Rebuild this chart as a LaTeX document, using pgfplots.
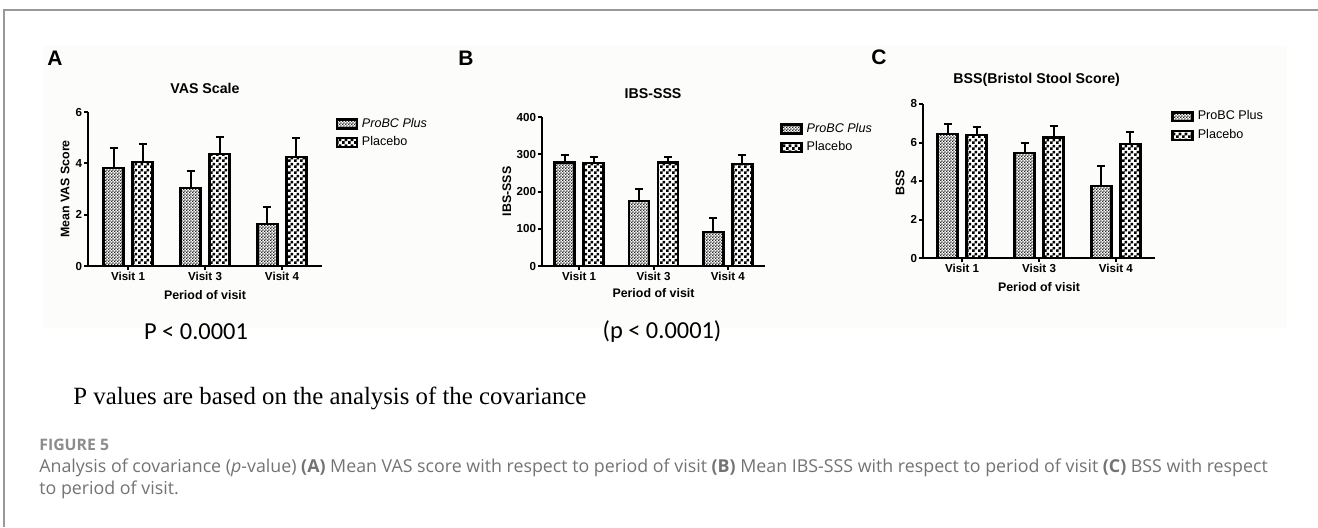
\documentclass[border=0pt]{standalone}
\usepackage{pgfplots}
\pgfplotsset{compat=1.18}
\usepackage{fontspec}
\setmainfont{Liberation Sans}
\newfontfamily\serifT{Liberation Serif}
\newfontfamily\carl{Carlito}
\newfontfamily\osans{Open Sans}
\usetikzlibrary{patterns}
\definecolor{bgc}{RGB}{252,252,250}
\definecolor{capgray}{RGB}{115,115,115}
\definecolor{figgray}{RGB}{140,140,140}
\pgfdeclarepatternformonly{finecheck}{\pgfpointorigin}{\pgfqpoint{1.6pt}{1.6pt}}{\pgfqpoint{1.6pt}{1.6pt}}{%
  \pgfpathrectangle{\pgfpointorigin}{\pgfqpoint{0.8pt}{0.8pt}}%
  \pgfpathrectangle{\pgfqpoint{0.8pt}{0.8pt}}{\pgfqpoint{0.8pt}{0.8pt}}%
  \pgfusepath{fill}}
\pgfdeclarepatternformonly{coarsecheck}{\pgfpointorigin}{\pgfqpoint{3pt}{3pt}}{\pgfqpoint{3pt}{3pt}}{%
  \pgfpathrectangle{\pgfpointorigin}{\pgfqpoint{1.5pt}{1.5pt}}%
  \pgfpathrectangle{\pgfqpoint{1.5pt}{1.5pt}}{\pgfqpoint{1.5pt}{1.5pt}}%
  \pgfusepath{fill}}
\pgfplotsset{
  panel/.style={
    scale only axis, axis lines=left, axis line style={-, line width=1pt},
    xmin=-0.52, xmax=2.52, ymin=0,
    xtick={0,1,2}, xticklabels={Visit 1, Visit 3, Visit 4},
    tick align=outside, major tick length=2pt,
    tick style={line width=1pt, black},
    ybar=4.5pt, bar width=10pt,
    tick label style={font=\fontsize{5.8}{6}\selectfont\bfseries, inner sep=0.8pt},
    label style={font=\fontsize{6.2}{7}\selectfont\bfseries},
    every axis title shift=0pt,
    title style={font=\fontsize{7.1}{8}\selectfont\bfseries, anchor=center, yshift=0pt},
    /pgf/number format/assume math mode=true,
    legend style={draw=none, fill=none, inner sep=0pt, font=\fontsize{6.3}{7}\selectfont,
      row sep=-0.8pt, anchor=north west},
    legend cell align=left,
    legend image code/.code={\draw[##1] (0pt,-2.2pt) rectangle (10pt,2.2pt);},
    clip=false,
  },
  pro/.style={draw=black, line width=1.2pt, fill=white, postaction={pattern=finecheck, pattern color=black!85},
    error bars/.cd, y dir=plus, y explicit,
    error bar style={line width=1pt, black},
    error mark options={rotate=90, mark size=2pt, line width=1pt, black}},
  pla/.style={draw=black, line width=1.2pt, fill=white, postaction={pattern=coarsecheck, pattern color=black},
    error bars/.cd, y dir=plus, y explicit,
    error bar style={line width=1pt, black},
    error mark options={rotate=90, mark size=2pt, line width=1pt, black}},
}
\begin{document}
\begin{tikzpicture}
\path[use as bounding box] (0,0) rectangle (659pt,-263.5pt);
\fill[bgc] (21.5pt,-23pt) rectangle (643.5pt,-164pt);
\draw[black!40, line width=0.6pt] (2pt,-263.5pt) -- (2pt,-5pt) -- (659pt,-5pt);

\node[font=\fontsize{10.5}{12}\selectfont\bfseries] at (27.5pt,-29pt) {A};
\node[font=\fontsize{10.5}{12}\selectfont\bfseries] at (233pt,-29pt) {B};
\node[font=\fontsize{10.5}{12}\selectfont\bfseries] at (439.5pt,-28.75pt) {C};

% Panel A
\begin{axis}[panel, at={(44pt,-133pt)}, anchor=south west, width=117pt, height=77pt,
  ymax=6, ytick={0,2,4,6},
  title={VAS Scale}, title style={at={(axis description cs:0.5,1.156)}},
  ylabel={Mean VAS Score}, ylabel style={at={(axis description cs:-0.098,0.5)}, anchor=center},
  xlabel={Period of visit}, xlabel style={at={(axis description cs:0.5,-0.188)}, anchor=center},
  legend style={at={(axis description cs:1.056,0.99)}}]
\addplot[pro] coordinates {(0,3.82) +- (0,0.78) (1,3.04) +- (0,0.66) (2,1.64) +- (0,0.66)};
\addplot[pla] coordinates {(0,4.05) +- (0,0.70) (1,4.36) +- (0,0.67) (2,4.25) +- (0,0.75)};
\legend{\textit{ProBC Plus}, Placebo}
\end{axis}

% Panel B
\begin{axis}[panel, at={(271pt,-133pt)}, anchor=south west, width=111.5pt, height=74.5pt,
  xmin=-0.5, xmax=2.5,
  ymax=400, ytick={0,100,200,300,400},
  title={IBS-SSS}, title style={at={(axis description cs:0.498,1.154)}},
  ylabel={IBS-SSS}, ylabel style={at={(axis description cs:-0.158,0.5)}, anchor=center},
  xlabel={Period of visit}, xlabel style={at={(axis description cs:0.5,-0.18)}, anchor=center},
  legend style={at={(axis description cs:1.067,0.99)}}]
\addplot[pro] coordinates {(0,278) +- (0,20) (1,174) +- (0,33) (2,91) +- (0,37)};
\addplot[pla] coordinates {(0,276) +- (0,16) (1,278) +- (0,15) (2,274) +- (0,25)};
\legend{\textit{ProBC Plus}, Placebo}
\end{axis}

% Panel C
\begin{axis}[panel, at={(461.5pt,-129pt)}, anchor=south west, width=116pt, height=77pt,
  xmin=-0.51, xmax=2.51,
  ymax=8, ytick={0,2,4,6,8},
  title={BSS(Bristol Stool Score)}, title style={at={(axis description cs:0.49,1.156)}},
  ylabel={BSS}, ylabel style={at={(axis description cs:-0.099,0.49)}, anchor=center},
  xlabel={Period of visit}, xlabel style={at={(axis description cs:0.5,-0.188)}, anchor=center},
  legend style={at={(axis description cs:1.069,0.985)}}]
\addplot[pro] coordinates {(0,6.44) +- (0,0.50) (1,5.47) +- (0,0.52) (2,3.74) +- (0,1.04)};
\addplot[pla] coordinates {(0,6.39) +- (0,0.43) (1,6.25) +- (0,0.62) (2,5.92) +- (0,0.61)};
\legend{ProBC Plus, Placebo}
\end{axis}

\node[font=\carl\fontsize{12.2}{14}\selectfont] at (98pt,-166pt) {P < 0.0001};
\node[font=\carl\fontsize{12.2}{14}\selectfont] at (331pt,-166pt) {(p < 0.0001)};
\node[font=\serifT\fontsize{12.4}{14}\selectfont, anchor=west, inner sep=0pt] at (36.5pt,-199pt) {P values are based on the analysis of the covariance};
\node[font=\osans\bfseries\fontsize{7.9}{9}\selectfont, text=figgray, anchor=west, inner sep=0pt] at (19.5pt,-222.5pt) {FIGURE 5};
\node[font=\osans\fontsize{8.9}{10}\selectfont, text=capgray, anchor=west, inner sep=0pt] at (19.5pt,-234pt) {Analysis of covariance (\textit{p}-value) \textbf{(A)} Mean VAS score with respect to period of visit \textbf{(B)} Mean IBS-SSS with respect to period of visit \textbf{(C)} BSS with respect};
\node[font=\osans\fontsize{8.9}{10}\selectfont, text=capgray, anchor=west, inner sep=0pt] at (19.5pt,-245pt) {to period of visit.};
\end{tikzpicture}
\end{document}
